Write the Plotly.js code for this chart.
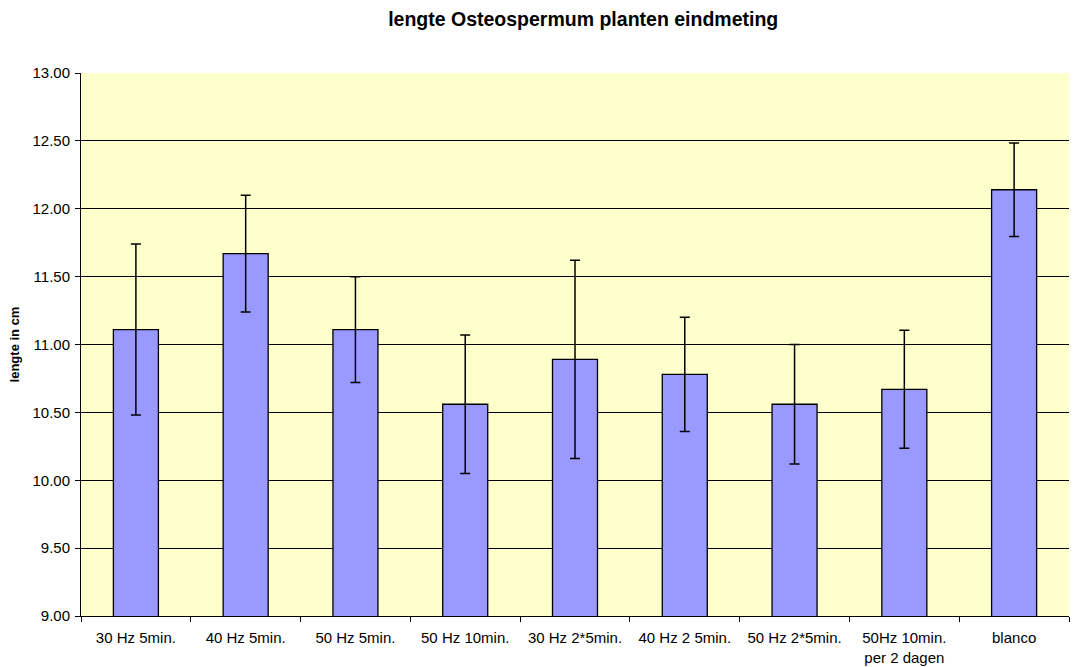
<!DOCTYPE html>
<html>
<head>
<meta charset="utf-8">
<script src="https://cdn.plot.ly/plotly-3.0.1.min.js"></script>
<style>html,body{margin:0;padding:0;background:#fff;}#chart{width:1078px;height:667px;}</style>
</head>
<body>
<div id="chart"></div>
<script>
const categories = ["30 Hz 5min.", "40 Hz 5min.", "50 Hz 5min.", "50 Hz 10min.", "30 Hz 2*5min.", "40 Hz 2 5min.", "50 Hz 2*5min.", "50Hz 10min.<br>per 2 dagen", "blanco"];
const lengths = [11.11, 11.67, 11.11, 10.56, 10.89, 10.78, 10.56, 10.67, 12.14];
const errors = [0.63, 0.43, 0.39, 0.51, 0.73, 0.42, 0.44, 0.435, 0.345];
const yTicks = [9.0, 9.5, 10.0, 10.5, 11.0, 11.5, 12.0, 12.5, 13.0];

const font = "'Liberation Sans', Arial, sans-serif";

const trace = {
  type: "bar",
  x: categories,
  y: lengths,
  marker: {color: "#9999FF", line: {color: "#000000", width: 1.3}},
  width: 0.41,
  error_y: {type: "data", array: errors, visible: true, color: "#000000", thickness: 1.5, width: 5},
  hoverinfo: "x+y"
};

const layout = {
  width: 1078,
  height: 667,
  margin: {l: 81, r: 9, t: 73, b: 51},
  paper_bgcolor: "#ffffff",
  plot_bgcolor: "#FFFFCC",
  showlegend: false,
  font: {family: font, size: 15, color: "#000000"},
  title: {
    text: "<b>lengte Osteospermum planten eindmeting</b>",
    font: {family: font, size: 19.5, color: "#000000"},
    xref: "container", x: 0.541, xanchor: "center",
    yref: "container", y: 0.982, yanchor: "top"
  },
  xaxis: {
    type: "category",
    tickson: "boundaries",
    ticks: "outside",
    ticklen: 5,
    tickcolor: "#000000",
    ticklabelstandoff: 8,
    showline: true,
    linecolor: "#000000",
    linewidth: 1,
    showgrid: false,
    tickfont: {family: font, size: 15, color: "#000000"},
    fixedrange: true
  },
  yaxis: {
    range: [9, 13],
    tickvals: yTicks,
    tickformat: ".2f",
    ticks: "outside",
    ticklen: 5,
    tickcolor: "#000000",
    ticklabelstandoff: 2,
    showline: true,
    linecolor: "#000000",
    linewidth: 1,
    showgrid: true,
    gridcolor: "#000000",
    gridwidth: 1,
    zeroline: false,
    tickfont: {family: font, size: 15, color: "#000000"},
    title: {text: "<b>lengte in cm</b>", font: {family: font, size: 13, color: "#000000"}, standoff: 9},
    fixedrange: true
  },
  bargap: 0.59
};

Plotly.newPlot("chart", [trace], layout, {displayModeBar: false, staticPlot: true});
</script>
</body>
</html>
